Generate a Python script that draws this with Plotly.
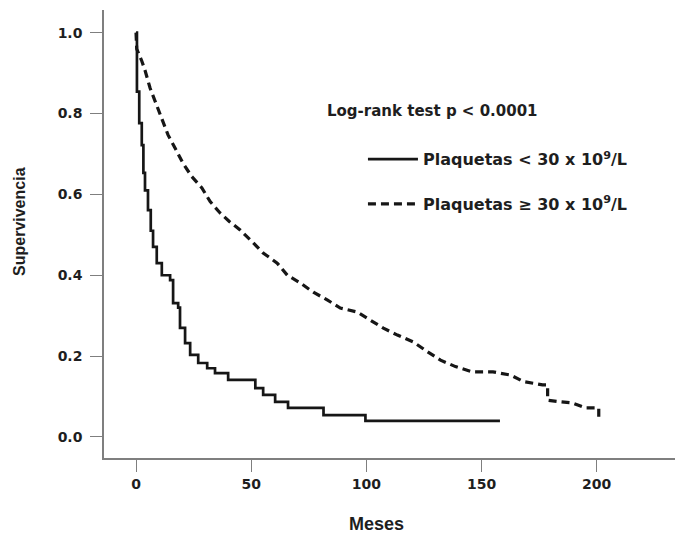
import plotly.graph_objects as go

# Kaplan-Meier readings: Plaquetas < 30 x 10^9/L (solid)
t_low = [0, 0.4, 1.4, 2.5, 3.2, 3.9, 5.2, 6.4, 7.4, 9, 11.2, 14.8, 16.1, 18.3, 19.1,
         21.3, 23.5, 27, 30.9, 34.3, 40, 51.8, 55.2, 60.4, 66, 81.4, 99.6, 158]
s_low = [1.0, 0.854, 0.776, 0.722, 0.653, 0.61, 0.561, 0.51, 0.47, 0.43, 0.40, 0.388,
         0.331, 0.32, 0.27, 0.232, 0.203, 0.183, 0.17, 0.158, 0.141, 0.121, 0.104,
         0.087, 0.072, 0.054, 0.04, 0.04]

# Plaquetas >= 30 x 10^9/L (dashed)
t_high = [0, 0.3, 2.5, 3.9, 6.1, 9, 11.2, 13.9, 17, 20.4, 24.2, 28.6, 32.2, 36.5, 40.5,
          45.2, 50.9, 55.2, 61.3, 65.7, 71.3, 77, 83, 88.7, 96, 101.7, 107.4, 113.5,
          120.4, 126.5, 132.2, 138.7, 146, 155, 162.6, 168.3, 176.5, 178.7, 178.7,
          184.3, 189.6, 195.2, 200.9, 200.9]
s_high = [1.0, 0.96, 0.93, 0.907, 0.863, 0.821, 0.784, 0.747, 0.714, 0.677, 0.644, 0.616,
          0.582, 0.554, 0.533, 0.512, 0.48, 0.455, 0.43, 0.40, 0.381, 0.358, 0.339,
          0.319, 0.309, 0.289, 0.269, 0.252, 0.235, 0.211, 0.19, 0.174, 0.161, 0.161,
          0.153, 0.137, 0.129, 0.129, 0.091, 0.087, 0.084, 0.072, 0.072, 0.04]

x_ticks = [0, 50, 100, 150, 200]
y_ticks = [0.0, 0.2, 0.4, 0.6, 0.8, 1.0]
y_tick_text = ["0.0", "0.2", "0.4", "0.6", "0.8", "1.0"]

name_low = "<b>Plaquetas < 30 x 10<sup>9</sup>/L</b>"
name_high = "<b>Plaquetas ≥ 30 x 10<sup>9</sup>/L</b>"
test_text = "<b>Log-rank test p < 0.0001</b>"

TXT = "#1e1e1e"
AX = "#7f7f7f"
F_LIB = "Liberation Sans"
F_DJ = "DejaVu Sans"

fig = go.Figure()
fig.add_trace(go.Scatter(x=t_low, y=s_low, mode="lines", name=name_low, showlegend=True,
                         line=dict(color="#161616", width=2.7, shape="hv"),
                         legend="legend"))
fig.add_trace(go.Scatter(x=t_high, y=s_high, mode="lines", name=name_high, showlegend=True,
                         line=dict(color="#161616", width=3.2, dash="8px,5px"),
                         legend="legend2"))

leg_common = dict(xanchor="left", yanchor="middle", itemwidth=50,
                  font=dict(family=F_DJ, size=16, color=TXT),
                  bgcolor="rgba(0,0,0,0)", borderwidth=0)

fig.update_layout(
    width=679, height=537,
    margin=dict(l=104, r=4, t=10, b=79),
    plot_bgcolor="white", paper_bgcolor="white",
    showlegend=True,
    font=dict(family=F_DJ, color=TXT, size=13),
    legend=dict(x=0.4535, y=0.667, **leg_common),
    legend2=dict(x=0.4535, y=0.567, **leg_common),
    annotations=[
        dict(text=test_text, xref="paper", yref="paper", x=0.387, y=0.775,
             xanchor="left", yanchor="middle", showarrow=False,
             font=dict(family=F_DJ, size=15, color=TXT)),
        dict(text="<b>Meses</b>", xref="paper", yref="paper", x=0.477, y=-0.147,
             xanchor="center", yanchor="middle", showarrow=False,
             font=dict(family=F_LIB, size=18, color=TXT)),
        dict(text="<b>Supervivencia</b>", xref="paper", yref="paper", x=-0.147, y=0.527,
             xanchor="center", yanchor="middle", showarrow=False, textangle=-90,
             font=dict(family=F_LIB, size=16, color=TXT)),
    ],
)
fig.update_xaxes(range=[-13.9, 234], tickvals=x_ticks, ticks="outside", ticklen=12,
                 tickwidth=1.3, tickcolor=AX, showline=True, linecolor=AX, linewidth=1.5,
                 showgrid=False, zeroline=False,
                 tickfont=dict(family=F_DJ, size=14, color=TXT, weight="bold"))
fig.update_yaxes(range=[-0.052, 1.056], tickvals=y_ticks, ticktext=y_tick_text,
                 ticks="outside", ticklen=12, tickwidth=1.3, tickcolor=AX, showline=True,
                 linecolor=AX, linewidth=1.5, showgrid=False, zeroline=False,
                 ticklabelstandoff=5,
                 tickfont=dict(family=F_DJ, size=14, color=TXT, weight="bold"))

fig.write_html("out.html")
